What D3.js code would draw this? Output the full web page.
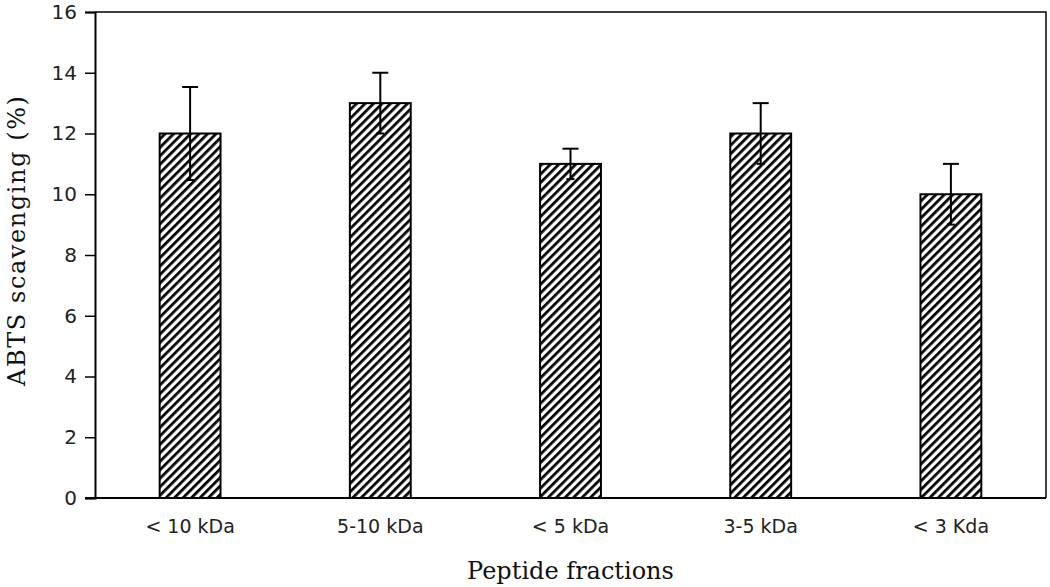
<!DOCTYPE html>
<html>
<head>
<meta charset="utf-8">
<script src="https://cdn.jsdelivr.net/npm/d3@7"></script>
<style>
  body { margin: 0; background: #fff; }
  svg { display: block; }
</style>
</head>
<body>
<div id="chart"></div>
<script>
const categories = ["< 10 kDa", "5-10 kDa", "< 5 kDa", "3-5 kDa", "< 3 Kda"];
const values = [12, 13, 11, 12, 10];
const errors = [1.53, 1, 0.5, 1, 1];
const yTicks = [0, 2, 4, 6, 8, 10, 12, 14, 16];

const W = 1050, H = 587;
const margin = { top: 12, right: 4, bottom: 89, left: 95 };

const svg = d3.select("#chart").append("svg")
  .attr("width", W).attr("height", H);

// hatch pattern
const defs = svg.append("defs");
const pat = defs.append("pattern")
  .attr("id", "hatch")
  .attr("patternUnits", "userSpaceOnUse")
  .attr("width", 6).attr("height", 6)
  .attr("patternTransform", "rotate(45)");
pat.append("rect").attr("width", 6).attr("height", 6).attr("fill", "#fff");
pat.append("line")
  .attr("x1", 0).attr("y1", 0).attr("x2", 0).attr("y2", 6)
  .attr("stroke", "#000").attr("stroke-width", 5.5);

const x = d3.scaleBand()
  .domain(categories)
  .range([margin.left, W - margin.right])
  .paddingInner(0.68)
  .paddingOuter(0.34);

const y = d3.scaleLinear()
  .domain([0, 16])
  .range([H - margin.bottom, margin.top]);

// frame (top + right)
svg.append("path")
  .attr("d", `M${margin.left},${margin.top}H${W - margin.right}V${H - margin.bottom}`)
  .attr("fill", "none").attr("stroke", "#000").attr("stroke-width", 1.5);

// bars
svg.append("g").selectAll("rect")
  .data(values)
  .join("rect")
  .attr("x", (d, i) => x(categories[i]))
  .attr("y", d => y(d))
  .attr("width", x.bandwidth())
  .attr("height", d => y(0) - y(d))
  .attr("fill", "url(#hatch)")
  .attr("stroke", "#000")
  .attr("stroke-width", 2);

// error bars
const eb = svg.append("g").attr("stroke", "#000").attr("stroke-width", 2);
values.forEach((v, i) => {
  const cx = x(categories[i]) + x.bandwidth() / 2;
  eb.append("line")
    .attr("x1", cx).attr("x2", cx)
    .attr("y1", y(v + errors[i])).attr("y2", y(v - errors[i]));
  eb.append("line")
    .attr("x1", cx - 8).attr("x2", cx + 8)
    .attr("y1", y(v + errors[i])).attr("y2", y(v + errors[i]));
  eb.append("line")
    .attr("x1", cx - 4).attr("x2", cx + 4)
    .attr("y1", y(v - errors[i])).attr("y2", y(v - errors[i]));
});

// y axis
const yAxis = svg.append("g")
  .attr("transform", `translate(${margin.left},0)`)
  .call(d3.axisLeft(y).tickValues(yTicks).tickSize(10).tickPadding(8));
yAxis.select(".domain").attr("stroke-width", 2);
yAxis.selectAll(".tick line").attr("stroke-width", 1.5);
yAxis.selectAll("text")
  .attr("font-family", "DejaVu Sans")
  .attr("font-size", 20)
  .attr("fill", "#222");

// x axis
const xAxis = svg.append("g")
  .attr("transform", `translate(0,${y(0)})`)
  .call(d3.axisBottom(x).tickSize(0).tickPadding(22));
xAxis.select(".domain").remove();
xAxis.append("line")
  .attr("x1", margin.left - 10).attr("x2", W - margin.right)
  .attr("stroke", "#000").attr("stroke-width", 2);
xAxis.selectAll("text")
  .attr("font-family", "DejaVu Sans")
  .attr("font-size", 19)
  .attr("fill", "#222");

// axis titles
svg.append("text")
  .attr("x", (margin.left + W - margin.right) / 2)
  .attr("y", 579)
  .attr("text-anchor", "middle")
  .attr("font-family", "DejaVu Serif")
  .attr("font-size", 24)
  .attr("fill", "#111")
  .text("Peptide fractions");

svg.append("text")
  .attr("transform", `translate(25,241) rotate(-90)`)
  .attr("text-anchor", "middle")
  .attr("font-family", "DejaVu Serif")
  .attr("font-size", 24)
  .attr("textLength", 290)
  .attr("lengthAdjust", "spacing")
  .attr("fill", "#111")
  .text("ABTS scavenging (%)");
</script>
</body>
</html>
